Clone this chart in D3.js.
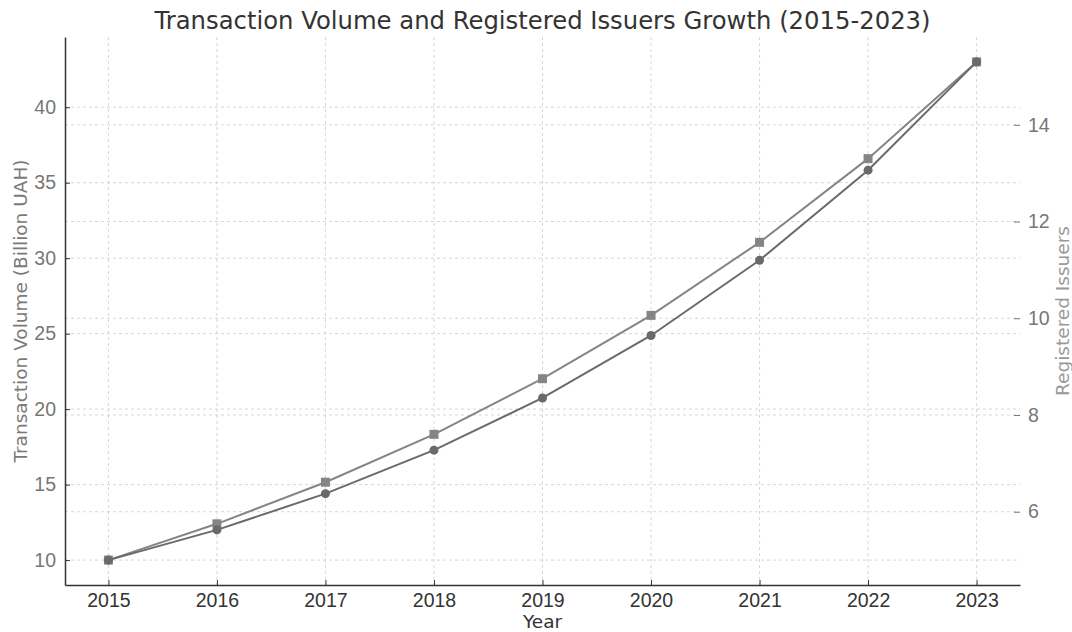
<!DOCTYPE html>
<html>
<head>
<meta charset="utf-8">
<script src="https://cdn.jsdelivr.net/npm/d3@7"></script>
<style>
  body { margin: 0; background: #fff; }
  svg { display: block; font-family: "DejaVu Sans", sans-serif; }
</style>
</head>
<body>
<script>
// chart data
const years = [2015, 2016, 2017, 2018, 2019, 2020, 2021, 2022, 2023];
const volume = [10, 12, 14.4, 17.28, 20.74, 24.88, 29.86, 35.83, 43.0];
const issuers = [5, 5.75, 6.61, 7.6, 8.75, 10.06, 11.57, 13.3, 15.3];
const leftTicks = [10, 15, 20, 25, 30, 35, 40];
const rightTicks = [6, 8, 10, 12, 14];

const canvWidth = 1072, canvHeight = 632;
const margin = {top: 37, right: 52, bottom: 47, left: 65};
const width = canvWidth - margin.left - margin.right;
const height = canvHeight - margin.top - margin.bottom;

const svg = d3.select("body").append("svg")
    .attr("width", canvWidth)
    .attr("height", canvHeight);

const g = svg.append("g")
    .attr("transform", "translate(" + margin.left + "," + margin.top + ")");

// scales with matplotlib-like 5% margins
function pad(ext) {
    const r = ext[1] - ext[0];
    return [ext[0] - r * 0.05, ext[1] + r * 0.05];
}
const xScale = d3.scaleLinear().domain(pad(d3.extent(years))).range([0, width]);
const yLeft = d3.scaleLinear().domain(pad(d3.extent(volume))).range([height, 0]);
const yRight = d3.scaleLinear().domain(pad(d3.extent(issuers))).range([height, 0]);

// grids
const grid = g.append("g")
    .attr("stroke", "#cccccc")
    .attr("stroke-width", 0.8)
    .attr("stroke-dasharray", "3,3");

grid.selectAll(".vx").data(years).join("line")
    .attr("x1", d => xScale(d)).attr("x2", d => xScale(d))
    .attr("y1", 0).attr("y2", height);
grid.selectAll(".hl").data(leftTicks).join("line")
    .attr("x1", 0).attr("x2", width)
    .attr("y1", d => yLeft(d)).attr("y2", d => yLeft(d));
grid.selectAll(".hr").data(rightTicks).join("line")
    .attr("x1", 0).attr("x2", width)
    .attr("y1", d => yRight(d)).attr("y2", d => yRight(d));

// axes
const tickFont = 19.5;
const xAxis = g.append("g")
    .attr("transform", "translate(0," + height + ")")
    .call(d3.axisBottom(xScale).tickValues(years).tickFormat(d3.format("d"))
        .tickSizeInner(-5).tickSizeOuter(0).tickPadding(8));
xAxis.select(".domain").attr("stroke", "#333").attr("stroke-width", 1.5);
xAxis.selectAll(".tick line").attr("stroke", "#333");
xAxis.selectAll("text").attr("fill", "#333").attr("font-size", tickFont);

const leftAxis = g.append("g")
    .call(d3.axisLeft(yLeft).tickValues(leftTicks)
        .tickSizeInner(-5).tickSizeOuter(0).tickPadding(9));
leftAxis.select(".domain").attr("stroke", "#333").attr("stroke-width", 1.5);
leftAxis.selectAll(".tick line").attr("stroke", "#333");
leftAxis.selectAll("text").attr("fill", "#777").attr("font-size", tickFont);

const rightAxis = g.append("g")
    .attr("transform", "translate(" + width + ",0)")
    .call(d3.axisRight(yRight).tickValues(rightTicks)
        .tickSizeInner(-6).tickSizeOuter(0).tickPadding(8));
rightAxis.select(".domain").remove();
rightAxis.selectAll(".tick line").attr("stroke", "#777");
rightAxis.selectAll("text").attr("fill", "#777").attr("font-size", tickFont);

// lines
const volLine = d3.line().x((d, i) => xScale(years[i])).y(d => yLeft(d));
const issLine = d3.line().x((d, i) => xScale(years[i])).y(d => yRight(d));

g.append("path").datum(issuers)
    .attr("fill", "none").attr("stroke", "#858585").attr("stroke-width", 2)
    .attr("d", issLine);
g.selectAll(".sq").data(issuers).join("rect")
    .attr("x", (d, i) => xScale(years[i]) - 4.5)
    .attr("y", d => yRight(d) - 4.5)
    .attr("width", 9).attr("height", 9)
    .attr("fill", "#858585");

g.append("path").datum(volume)
    .attr("fill", "none").attr("stroke", "#6a6a6a").attr("stroke-width", 2)
    .attr("d", volLine);
g.selectAll(".dot").data(volume).join("circle")
    .attr("cx", (d, i) => xScale(years[i]))
    .attr("cy", d => yLeft(d))
    .attr("r", 4.5)
    .attr("fill", "#6a6a6a");

// labels
svg.append("text")
    .attr("x", margin.left + width / 2).attr("y", 29)
    .attr("text-anchor", "middle")
    .attr("font-size", 24.3).attr("fill", "#333")
    .text("Transaction Volume and Registered Issuers Growth (2015-2023)");

svg.append("text")
    .attr("x", margin.left + width / 2).attr("y", 628)
    .attr("text-anchor", "middle")
    .attr("font-size", 18.5).attr("fill", "#333")
    .text("Year");

svg.append("text")
    .attr("transform", "translate(27," + (margin.top + height / 2) + ") rotate(-90)")
    .attr("text-anchor", "middle")
    .attr("font-size", 18.5).attr("fill", "#7a7a7a")
    .text("Transaction Volume (Billion UAH)");

svg.append("text")
    .attr("transform", "translate(1069," + (margin.top + height / 2) + ") rotate(-90)")
    .attr("text-anchor", "middle")
    .attr("font-size", 18.5).attr("fill", "#999")
    .text("Registered Issuers");
</script>
</body>
</html>
